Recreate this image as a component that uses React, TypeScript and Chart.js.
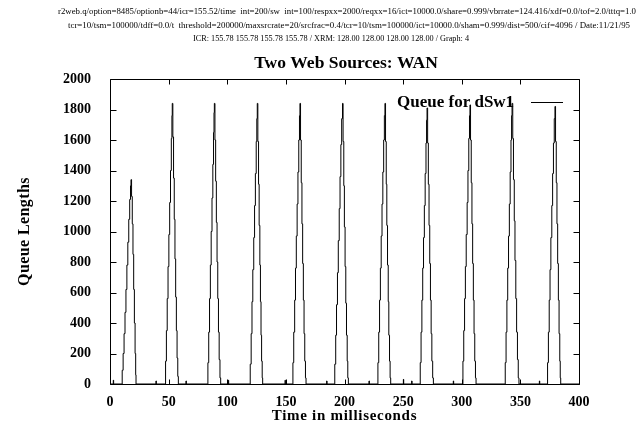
import React, { useEffect, useRef } from "react";
import { Chart, registerables } from "chart.js";

Chart.register(...registerables);

const HEADER_LINES = [
  "r2web.q/option=8485/optionb=44/icr=155.52/time  int=200/sw  int=100/respxx=2000/reqxx=16/ict=10000.0/share=0.999/vbrrate=124.416/xdf=0.0/tof=2.0/tttq=1.0",
  "tcr=10/tsm=100000/tdff=0.0/t  threshold=200000/maxsrcrate=20/srcfrac=0.4/tcr=10/tsm=100000/ict=10000.0/sham=0.999/dist=500/cif=4096 / Date:11/21/95",
  "ICR: 155.78 155.78 155.78 155.78 / XRM: 128.00 128.00 128.00 128.00 / Graph: 4",
];
const TITLE = "Two Web Sources: WAN";
const SERIES_LABEL = "Queue for dSw1";
const X_TITLE = "Time in milliseconds";
const Y_TITLE = "Queue Lengths";
const X_TICKS = [0, 50, 100, 150, 200, 250, 300, 350, 400];
const Y_TICKS = [0, 200, 400, 600, 800, 1000, 1200, 1400, 1600, 1800, 2000];

// [time ms, queue length]
const BASELINE = [[0, 0], [400, 0]];
const BLIPS = [
  [2.8, 0], [2.8, 25], [3.1, 0],
  [39.2, 0], [39.2, 20], [39.5, 0],
  [64.8, 0], [64.8, 20], [65.1, 0],
  [100.9, 0], [100.9, 25], [101.2, 0],
  [149.3, 0], [149.3, 25], [149.6, 0],
  [184.8, 0], [184.8, 20], [185.1, 0],
  [220.9, 0], [220.9, 20], [221.2, 0],
  [250.2, 0], [250.2, 30], [250.5, 0],
  [257.3, 0], [257.3, 20], [257.6, 0],
  [292.8, 0], [292.8, 20], [293.1, 0],
  [366.2, 0], [366.2, 20], [366.5, 0],
];
const BURST_1 = [[10.2,0],[10.4,90],[11.2,200],[12.0,330],[12.8,470],[13.6,620],[14.4,780],[15.2,930],[16.0,1080],[16.8,1210],[17.5,1300],[17.9,1340],[18.4,1230],[19.0,1050],[19.6,850],[20.2,620],[20.8,400],[21.4,200],[21.9,60],[22.2,0]];
const BURST_2 = [[47.2,0],[47.4,150],[48.1,350],[48.8,560],[49.5,770],[50.2,980],[50.9,1190],[51.6,1400],[52.3,1610],[52.8,1760],[53.1,1840],[53.6,1620],[54.2,1350],[54.8,1080],[55.4,820],[56.0,570],[56.6,350],[57.2,170],[57.8,50],[58.3,0]];
const BURST_3 = [[83.3,0],[83.5,140],[84.2,340],[84.9,560],[85.6,780],[86.3,1000],[87.0,1220],[87.7,1440],[88.3,1650],[88.7,1780],[89.0,1840],[89.5,1600],[90.1,1330],[90.7,1060],[91.3,800],[91.9,560],[92.5,340],[93.1,160],[93.8,40],[94.4,0]];
const BURST_4 = [[119.4,0],[119.6,130],[120.4,330],[121.1,540],[121.8,750],[122.6,960],[123.3,1170],[124.0,1380],[124.7,1590],[125.2,1740],[125.6,1840],[126.1,1590],[126.7,1310],[127.2,1040],[127.8,780],[128.3,540],[128.8,320],[129.3,150],[129.8,40],[130.2,0]];
const BURST_5 = [[155.8,0],[156.0,140],[156.7,340],[157.5,550],[158.2,760],[158.9,970],[159.6,1180],[160.3,1390],[161.0,1600],[161.6,1760],[162.0,1840],[162.5,1600],[163.1,1320],[163.7,1050],[164.3,790],[164.9,550],[165.5,330],[166.1,150],[166.7,40],[167.2,0]];
const BURST_6 = [[191.5,0],[191.7,130],[192.5,320],[193.2,520],[194.0,730],[194.7,940],[195.5,1150],[196.2,1360],[196.9,1570],[197.6,1740],[198.3,1840],[198.8,1590],[199.4,1300],[199.9,1030],[200.5,770],[201.1,530],[201.7,320],[202.3,150],[202.8,40],[203.3,0]];
const BURST_7 = [[228.3,0],[228.5,140],[229.2,340],[229.9,550],[230.6,760],[231.3,970],[232.0,1180],[232.7,1390],[233.4,1600],[234.0,1760],[234.5,1840],[235.0,1590],[235.6,1310],[236.1,1040],[236.7,780],[237.3,540],[237.8,320],[238.4,150],[238.9,40],[239.4,0]];
const BURST_8 = [[264.4,0],[264.6,140],[265.3,340],[266.0,550],[266.7,760],[267.4,960],[268.1,1170],[268.8,1380],[269.5,1580],[270.0,1730],[270.4,1810],[270.9,1580],[271.5,1310],[272.1,1040],[272.7,790],[273.3,550],[273.9,330],[274.5,150],[275.2,40],[275.8,0]];
const BURST_9 = [[300.8,0],[301.0,150],[301.7,350],[302.4,560],[303.1,770],[303.8,980],[304.6,1190],[305.3,1400],[306.0,1610],[306.6,1760],[307.0,1830],[307.5,1600],[308.1,1320],[308.7,1050],[309.3,790],[309.9,550],[310.5,330],[311.1,150],[311.7,40],[312.2,0]];
const BURST_10 = [[336.9,0],[337.1,140],[337.8,340],[338.5,550],[339.2,760],[339.9,970],[340.6,1180],[341.3,1390],[342.0,1600],[342.5,1760],[342.9,1840],[343.5,1610],[344.1,1340],[344.8,1070],[345.4,810],[346.1,560],[346.8,340],[347.5,160],[348.2,40],[348.8,0]];
const BURST_11 = [[373.0,0],[373.2,140],[373.9,340],[374.6,550],[375.3,750],[376.0,960],[376.8,1170],[377.5,1380],[378.2,1580],[378.9,1740],[379.5,1820],[380.0,1590],[380.6,1320],[381.2,1050],[381.8,790],[382.4,550],[383.0,330],[383.6,150],[384.0,40],[384.4,0]];

const SERIF = "'Liberation Serif', 'Times New Roman', serif";

export default function App() {
  const ref = useRef<HTMLCanvasElement>(null);

  useEffect(() => {
    if (!ref.current) return;
    const all = [
      ...BASELINE, ...BLIPS,
      ...BURST_1, ...BURST_2, ...BURST_3, ...BURST_4, ...BURST_5, ...BURST_6,
      ...BURST_7, ...BURST_8, ...BURST_9, ...BURST_10, ...BURST_11,
    ]
      .map(([x, y]) => ({ x, y }))
      .sort((a, b) => a.x - b.x);

    const headerLayout = [
      { left: 58, y: 12, width: 578 },
      { left: 68, y: 25.5, width: 562 },
      { left: 193, y: 39, width: 276 },
    ];

    const deco = {
      id: "deco",
      afterDraw(chart: any) {
        const { ctx, chartArea: a, scales } = chart;
        const x = scales.x;
        const y = scales.y;
        ctx.save();
        ctx.strokeStyle = "#000";
        ctx.lineWidth = 1;
        const L = Math.round(a.left) + 0.5;
        const R = Math.round(a.right) + 0.5;
        const T = Math.round(a.top) + 0.5;
        const B = Math.round(a.bottom) + 0.5;
        ctx.beginPath();
        ctx.rect(L, T, R - L, B - T);
        for (const v of Y_TICKS) {
          const py = Math.round(y.getPixelForValue(v)) + 0.5;
          ctx.moveTo(L, py);
          ctx.lineTo(L + 6, py);
          ctx.moveTo(R - 6, py);
          ctx.lineTo(R, py);
        }
        for (const v of X_TICKS) {
          const px = Math.round(x.getPixelForValue(v)) + 0.5;
          ctx.moveTo(px, B);
          ctx.lineTo(px, B - 5);
          ctx.moveTo(px, T);
          ctx.lineTo(px, T + 5);
        }
        ctx.stroke();

        ctx.fillStyle = "#000";
        ctx.textBaseline = "middle";
        ctx.textAlign = "left";
        ctx.font = `8px ${SERIF}`;
        HEADER_LINES.forEach((line, i) => {
          const spec = headerLayout[i];
          const w = ctx.measureText(line).width;
          ctx.save();
          ctx.translate(spec.left, spec.y);
          ctx.scale(spec.width / w, 1);
          ctx.fillText(line, 0, 0);
          ctx.restore();
        });

        ctx.font = `bold 17.5px ${SERIF}`;
        ctx.textAlign = "center";
        ctx.fillText(TITLE, 346, 63);

        ctx.font = `bold 17px ${SERIF}`;
        ctx.textAlign = "left";
        ctx.fillText(SERIES_LABEL, 397, 103);

        (ctx as any).letterSpacing = "0.7px";
        ctx.font = `bold 15px ${SERIF}`;
        ctx.textAlign = "center";
        ctx.fillText(X_TITLE, (a.left + a.right) / 2, 416);

        (ctx as any).letterSpacing = "0.4px";
        ctx.font = `bold 16px ${SERIF}`;
        ctx.save();
        ctx.translate(25, (a.top + a.bottom) / 2);
        ctx.rotate(-Math.PI / 2);
        ctx.fillText(Y_TITLE, 0, 0);
        ctx.restore();
        (ctx as any).letterSpacing = "0px";

        ctx.beginPath();
        ctx.moveTo(531, 102.5);
        ctx.lineTo(563, 102.5);
        ctx.stroke();
        ctx.restore();
      },
    };

    const tickFont = { family: SERIF, size: 14, weight: "bold" as const };

    const chart = new Chart(ref.current, {
      type: "line",
      data: {
        datasets: [
          {
            label: SERIES_LABEL,
            data: all,
            borderColor: "#000",
            borderWidth: 1,
            pointRadius: 0,
            stepped: true,
            fill: false,
          },
        ],
      },
      options: {
        animation: false,
        responsive: false,
        devicePixelRatio: 1,
        layout: { padding: { left: 0, right: 57, top: 79, bottom: 0 } },
        plugins: {
          legend: { display: false },
          title: { display: false },
          tooltip: { enabled: false },
        },
        scales: {
          x: {
            type: "linear",
            min: 0,
            max: 400,
            afterBuildTicks: (s: any) => {
              s.ticks = X_TICKS.map((v) => ({ value: v }));
            },
            afterFit: (s: any) => {
              s.height = 50;
            },
            grid: { display: false, drawTicks: false },
            border: { display: false },
            ticks: {
              font: tickFont,
              color: "#000",
              padding: 10,
              maxRotation: 0,
              autoSkip: false,
              callback: (v: any) => String(v),
            },
          },
          y: {
            type: "linear",
            min: 0,
            max: 2000,
            afterBuildTicks: (s: any) => {
              s.ticks = Y_TICKS.map((v) => ({ value: v }));
            },
            afterFit: (s: any) => {
              s.width = 110;
            },
            grid: { display: false, drawTicks: false },
            border: { display: false },
            ticks: {
              font: tickFont,
              color: "#000",
              padding: 19,
              autoSkip: false,
              callback: (v: any) => String(v),
            },
          },
        },
      },
      plugins: [deco],
    });
    return () => chart.destroy();
  }, []);

  return (
    <div style={{ position: "absolute", left: 0, top: 0, width: 636, height: 434, background: "#fff" }}>
      <canvas ref={ref} width={636} height={434} />
    </div>
  );
}
